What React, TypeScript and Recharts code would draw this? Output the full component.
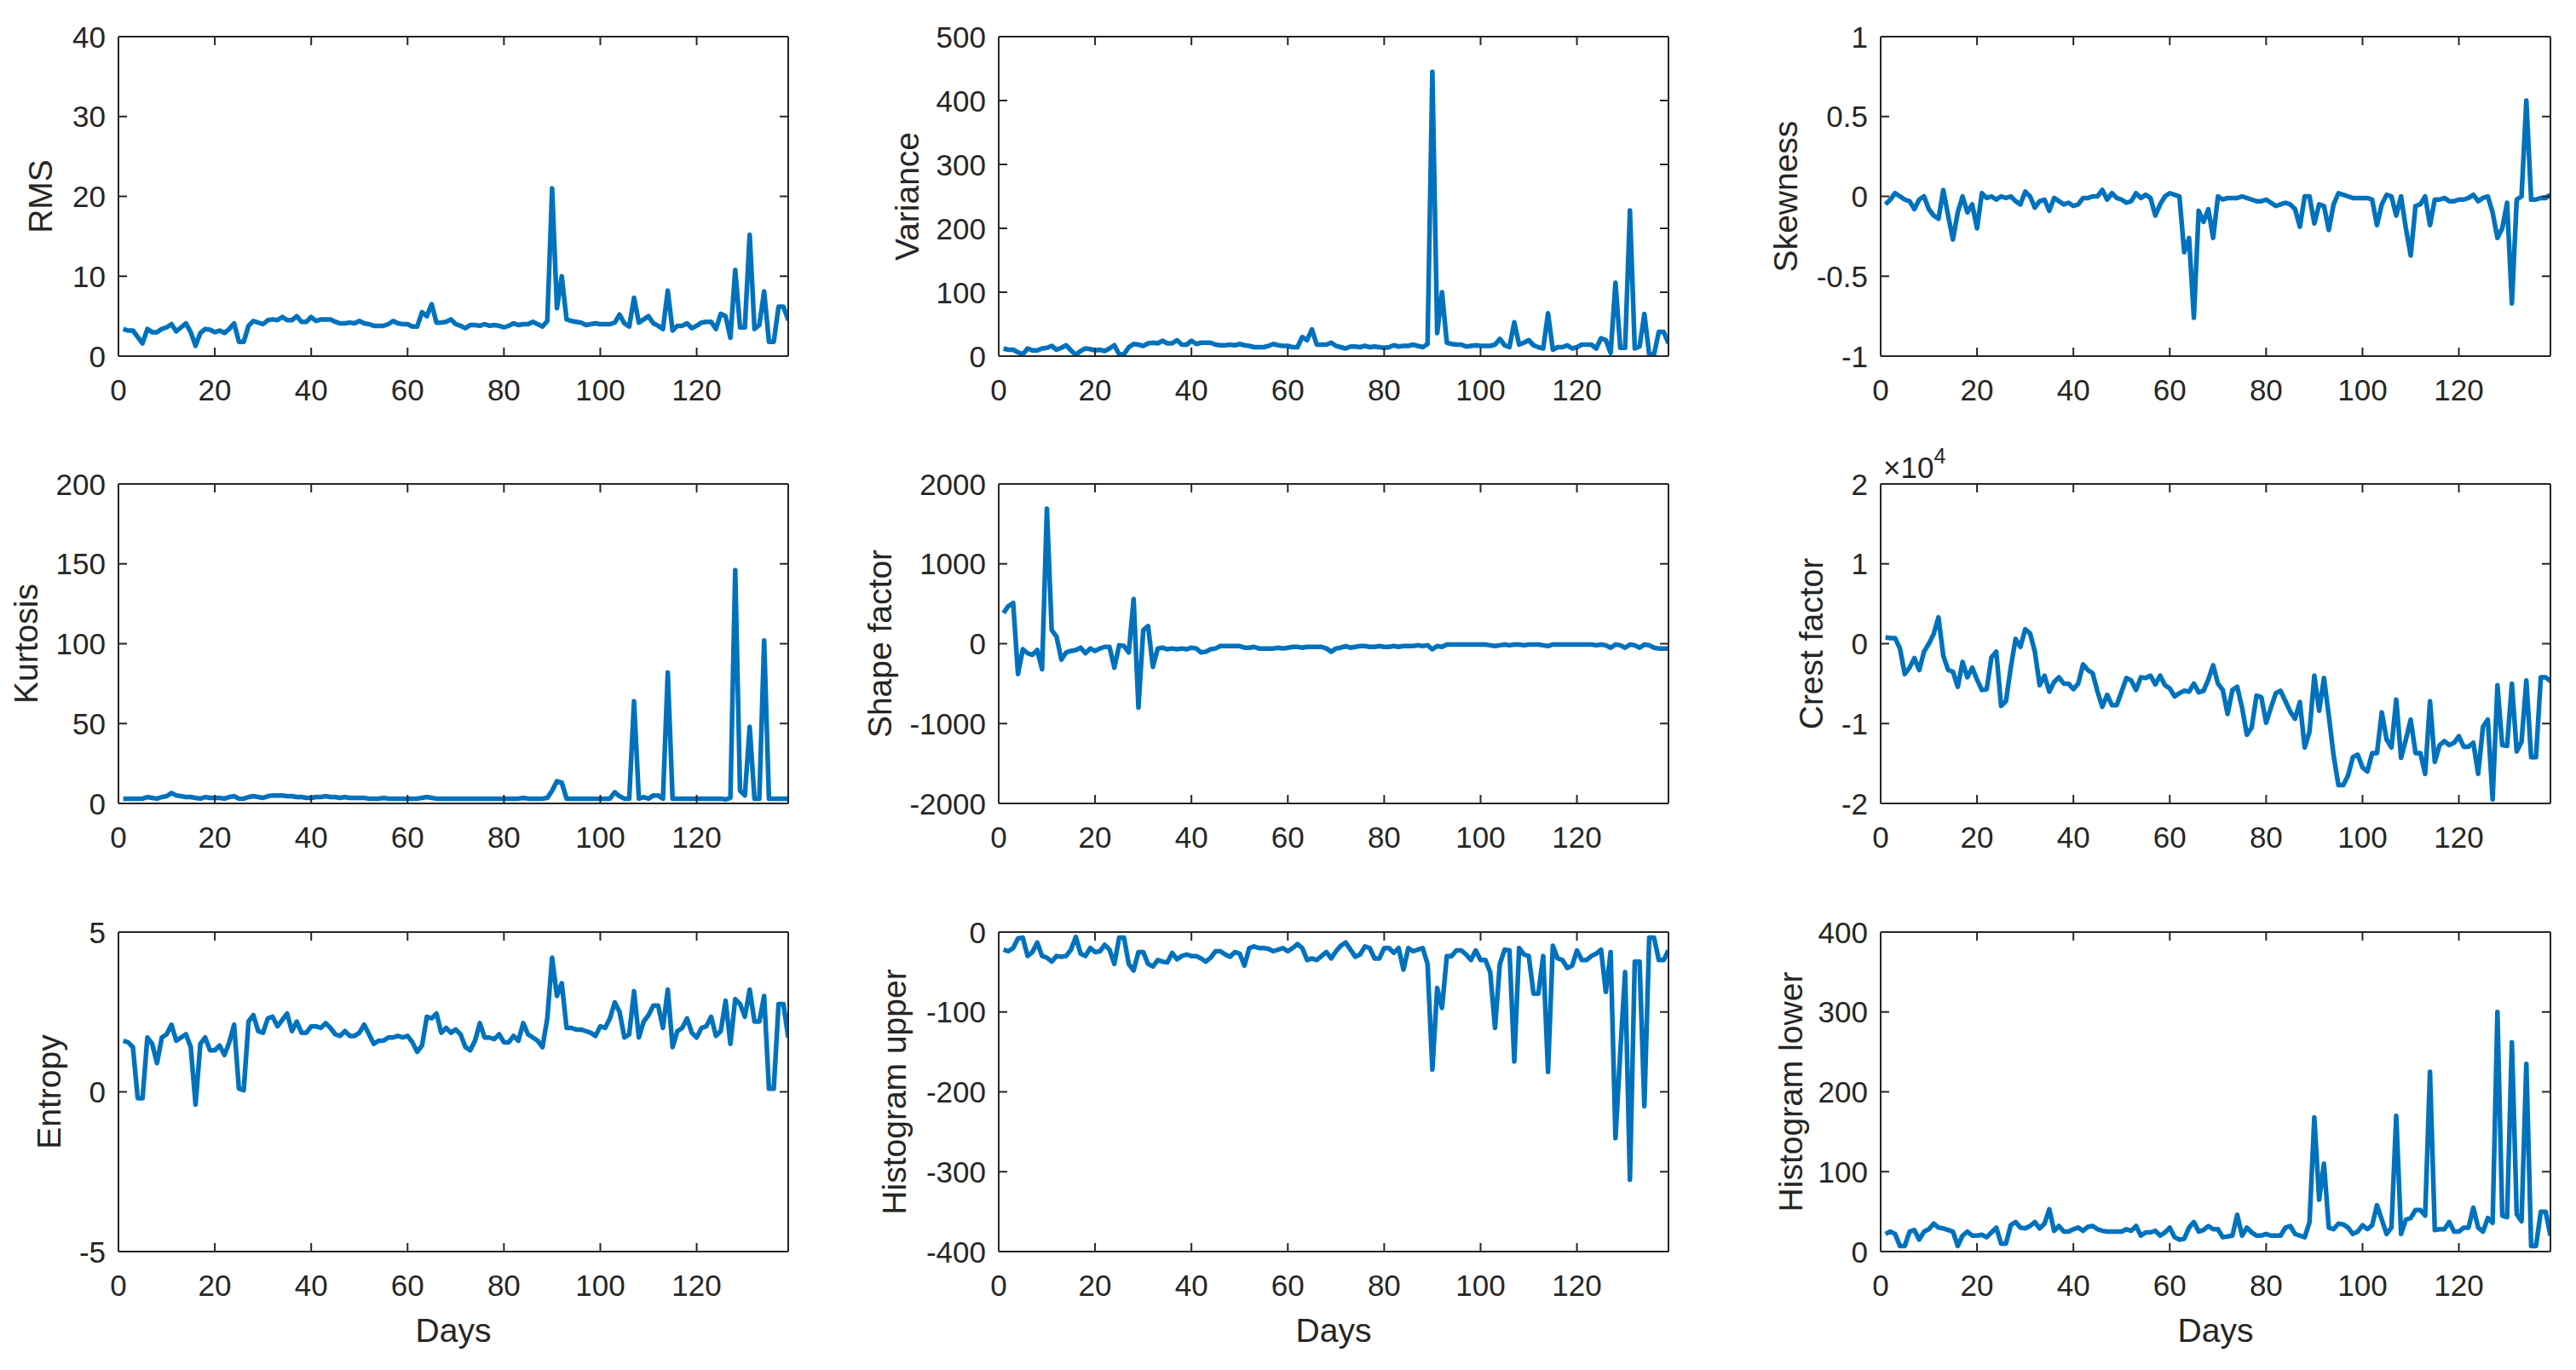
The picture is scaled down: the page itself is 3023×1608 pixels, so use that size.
import React from 'react';
import { LineChart, Line, XAxis, YAxis } from 'recharts';

// day index for every sample (x categories)
const days = Array.from({ length: 139 }, (_, i) => i + 1);
const dayTicks = [0, 20, 40, 60, 80, 100, 120];

const rms = [
  3.4, 3.2, 3.2, 2.4, 1.6, 3.4, 3.0, 3.0, 3.4, 3.6,
  4.0, 3.1, 3.6, 4.1, 3.0, 1.3, 2.9, 3.4, 3.3, 3.0,
  3.2, 2.9, 3.4, 4.1, 1.8, 1.8, 3.8, 4.4, 4.2, 4.0,
  4.5, 4.6, 4.5, 4.9, 4.5, 4.5, 5.0, 4.3, 4.3, 4.9,
  4.4, 4.6, 4.6, 4.6, 4.3, 4.1, 4.1, 4.2, 4.1, 4.4,
  4.1, 4.0, 3.8, 3.8, 3.8, 4.0, 4.4, 4.1, 4.0, 4.0,
  3.7, 3.7, 5.5, 5.0, 6.5, 4.2, 4.2, 4.3, 4.6, 4.0,
  3.8, 3.5, 3.9, 3.9, 3.8, 4.0, 3.8, 3.9, 3.8, 3.6,
  3.8, 4.1, 3.9, 4.0, 4.0, 4.3, 4.0, 3.7, 4.4, 21.0,
  6.0, 10.0, 4.6, 4.4, 4.3, 4.2, 3.9, 4.0, 4.1, 4.0,
  4.0, 4.0, 4.2, 5.2, 4.1, 3.7, 7.3, 4.2, 4.6, 5.0,
  4.1, 3.8, 3.4, 8.2, 3.2, 3.8, 3.8, 4.1, 3.5, 3.8,
  4.2, 4.3, 4.3, 3.4, 5.3, 5.0, 2.3, 10.8, 3.6, 3.6,
  15.2, 3.4, 3.9, 8.1, 1.8, 1.8, 6.2, 6.2, 4.5,
];

const variance = [
  12, 10, 10, 6, 3, 12, 9, 9, 12, 13,
  16, 10, 13, 17, 9, 2, 8, 12, 11, 9,
  10, 8, 12, 17, 3, 3, 14, 19, 18, 16,
  20, 21, 20, 24, 20, 20, 25, 18, 18, 24,
  19, 21, 21, 21, 18, 17, 17, 18, 17, 19,
  17, 16, 14, 14, 14, 16, 19, 17, 16, 16,
  14, 14, 30, 25, 42, 18, 18, 18, 21, 16,
  14, 12, 15, 15, 14, 16, 14, 15, 14, 13,
  14, 17, 15, 16, 16, 18, 16, 14, 19, 445,
  36, 100, 21, 19, 18, 18, 15, 16, 17, 16,
  16, 16, 18, 27, 17, 14, 53, 18, 21, 25,
  17, 14, 12, 67, 10, 14, 14, 17, 12, 14,
  18, 18, 18, 12, 28, 25, 5, 115, 13, 13,
  228, 12, 15, 66, 3, 3, 38, 38, 20,
];

const skewness = [
  -0.05, -0.02, 0.02, 0.0, -0.02, -0.03, -0.08, -0.02, 0.0, -0.08,
  -0.12, -0.14, 0.04, -0.12, -0.27, -0.1, 0.0, -0.1, -0.05, -0.2,
  0.02, -0.01, 0.0, -0.02, 0.0, -0.01, 0.0, -0.03, -0.05, 0.03,
  0.0, -0.07, -0.03, -0.02, -0.09, -0.01, -0.03, -0.05, -0.04, -0.06,
  -0.05, -0.01, -0.01, 0.0, 0.0, 0.04, -0.02, 0.02, -0.01, -0.02,
  -0.04, -0.03, 0.02, -0.01, 0.01, -0.01, -0.12, -0.05, 0.0, 0.02,
  0.01, 0.0, -0.35, -0.26, -0.76, -0.09, -0.16, -0.08, -0.26, 0.0,
  -0.02, -0.01, -0.01, -0.01, 0.0, -0.01, -0.02, -0.03, -0.03, -0.02,
  -0.04, -0.06, -0.05, -0.04, -0.05, -0.08, -0.19, 0.0, 0.0, -0.17,
  -0.05, -0.06, -0.21, -0.05, 0.02, 0.01, 0.0, -0.01, -0.01, -0.01,
  -0.01, -0.02, -0.18, -0.05, 0.01, 0.0, -0.12, 0.0, -0.2, -0.37,
  -0.06, -0.05, 0.0, -0.18, -0.02, -0.02, -0.01, -0.03, -0.03, -0.02,
  -0.02, -0.01, 0.01, -0.03, -0.01, 0.0, -0.1, -0.26, -0.2, -0.04,
  -0.67, -0.02, 0.0, 0.6, -0.02, -0.02, -0.01, -0.01, 0.01,
];

const kurtosis = [
  3, 3, 3, 3, 3, 4, 3.5, 3, 4, 4.5,
  6.5, 5, 4.5, 4, 4, 3.5, 3, 4, 3.5, 3.5,
  3.5, 3, 4, 4.5, 3, 3, 4, 4.5, 4, 3.5,
  4.5, 5, 5, 5, 4.5, 4.5, 4, 4, 3.5, 3.5,
  4, 4, 4.5, 4, 4, 3.5, 4, 3.5, 3.5, 3.5,
  3.5, 3, 3, 3, 3.5, 3, 3, 3, 3, 3,
  3, 3, 3.5, 4, 3.5, 3, 3, 3, 3, 3,
  3, 3, 3, 3, 3, 3, 3, 3, 3, 3,
  3, 3, 3, 3.5, 3, 3, 3, 3, 3.5, 8,
  14, 13, 3, 3, 3, 3, 3, 3, 3, 3,
  3, 3, 7, 4.5, 3, 3, 64, 3, 4, 3,
  5, 5, 3, 82, 3, 3, 3, 3, 3, 3,
  3, 3, 3, 3, 3, 2.5, 3.5, 146, 8, 5,
  48, 3, 3, 102, 3, 3, 3, 3, 3,
];

const shapeFactor = [
  384, 470, 510, -380, -70, -120, -140, -80, -320, 1690,
  170, 90, -200, -110, -90, -80, -50, -120, -60, -90,
  -60, -40, -40, -300, -20, -30, -110, 560, -800, 170,
  220, -290, -60, -50, -70, -60, -70, -60, -70, -50,
  -60, -110, -100, -70, -60, -30, -30, -30, -30, -30,
  -50, -50, -40, -60, -60, -60, -60, -50, -60, -50,
  -40, -40, -50, -40, -40, -40, -40, -60, -100, -60,
  -50, -30, -50, -40, -30, -30, -40, -40, -30, -40,
  -40, -30, -40, -30, -30, -30, -20, -30, -20, -70,
  -30, -40, -10, -10, -10, -10, -10, -10, -10, -10,
  -10, -20, -30, -20, -10, -20, -10, -10, -20, -10,
  -10, -10, -20, -30, -10, -10, -10, -10, -10, -10,
  -10, -10, -10, -20, -10, -20, -50, -10, -20, -50,
  -10, -20, -50, -10, -20, -50, -60, -60, -60,
];

// crest factor, in units of 1e4
const crestFactor = [
  0.08, 0.07, 0.07, -0.06, -0.38, -0.3, -0.18, -0.33, -0.1, 0.0,
  0.12, 0.33, -0.15, -0.33, -0.35, -0.54, -0.23, -0.42, -0.3, -0.45,
  -0.58, -0.57, -0.17, -0.1, -0.78, -0.72, -0.3, 0.06, -0.04, 0.18,
  0.13, -0.1, -0.52, -0.4, -0.6, -0.48, -0.42, -0.5, -0.5, -0.57,
  -0.5, -0.26, -0.33, -0.37, -0.6, -0.79, -0.64, -0.77, -0.77, -0.6,
  -0.43, -0.46, -0.58, -0.42, -0.43, -0.4, -0.51, -0.4, -0.52, -0.56,
  -0.66, -0.62, -0.59, -0.6, -0.5, -0.61, -0.59, -0.45, -0.27, -0.5,
  -0.58, -0.88, -0.58, -0.54, -0.8, -1.14, -1.05, -0.65, -0.67, -0.99,
  -0.8, -0.62, -0.59, -0.72, -0.85, -0.94, -0.73, -1.3, -1.1, -0.4,
  -0.84, -0.43, -0.9, -1.4, -1.77, -1.77, -1.65, -1.42, -1.39, -1.55,
  -1.6, -1.37, -1.37, -0.86, -1.2, -1.3, -0.7, -1.43, -1.2, -0.95,
  -1.37, -1.37, -1.63, -0.72, -1.48, -1.27, -1.22, -1.27, -1.24, -1.16,
  -1.29, -1.29, -1.24, -1.63, -1.04, -0.95, -1.95, -0.52, -1.27, -1.28,
  -0.5, -1.35, -1.23, -0.46, -1.42, -1.42, -0.42, -0.42, -0.47,
];

const entropy = [
  1.6, 1.55, 1.4, -0.2, -0.2, 1.7, 1.5, 0.9, 1.7, 1.8,
  2.1, 1.6, 1.7, 1.8, 1.4, -0.4, 1.5, 1.7, 1.3, 1.3,
  1.45, 1.15, 1.55, 2.1, 0.1, 0.05, 2.2, 2.4, 1.9, 1.85,
  2.3, 2.35, 2.05, 2.25, 2.45, 1.9, 2.2, 1.85, 1.85, 2.05,
  2.05, 2.0, 2.15, 2.0, 1.8, 1.75, 1.9, 1.75, 1.75, 1.85,
  2.1, 1.8, 1.5, 1.6, 1.6, 1.7, 1.7, 1.75, 1.7, 1.75,
  1.55, 1.25, 1.45, 2.35, 2.3, 2.45, 1.85, 2.0, 1.85, 1.95,
  1.8, 1.4, 1.3, 1.6, 2.15, 1.7, 1.7, 1.65, 1.8, 1.55,
  1.55, 1.75, 1.6, 2.15, 1.8, 1.7, 1.6, 1.4, 2.3, 4.2,
  3.0, 3.4, 2.0, 2.0, 1.95, 1.95, 1.9, 1.85, 1.75, 2.05,
  2.0, 2.3, 2.8, 2.5, 1.7, 1.8, 3.15, 1.7, 2.2, 2.4,
  2.7, 2.7, 2.0, 3.2, 1.4, 1.9, 2.0, 2.3, 1.85, 1.7,
  2.0, 2.05, 2.35, 1.75, 1.9, 2.85, 1.5, 2.9, 2.75, 2.35,
  3.2, 2.2, 2.2, 3.0, 0.1, 0.1, 2.75, 2.75, 1.7,
];

const histUpper = [
  -22, -24, -20, -8, -7, -30, -25, -13, -30, -32,
  -37, -30, -31, -30, -22, -6, -27, -30, -20, -25,
  -24, -16, -22, -40, -7, -7, -40, -48, -25, -25,
  -40, -43, -35, -37, -38, -26, -34, -30, -28, -30,
  -30, -33, -37, -32, -24, -24, -28, -31, -25, -27,
  -42, -20, -18, -20, -20, -21, -24, -22, -20, -24,
  -20, -15, -20, -35, -33, -35, -30, -25, -33, -24,
  -17, -13, -22, -31, -28, -18, -20, -33, -33, -20,
  -20, -26, -20, -47, -20, -24, -22, -20, -40, -172,
  -70, -95, -30, -30, -23, -23, -28, -35, -23, -35,
  -35, -50, -120, -40, -22, -23, -162, -20, -28, -30,
  -77, -77, -30, -175, -17, -33, -35, -45, -42, -23,
  -35, -35, -30, -27, -22, -75, -25, -258, -150, -50,
  -310, -37, -37, -218, -7, -7, -35, -35, -23,
];

const histLower = [
  22, 25, 22, 7, 7, 25, 27, 15, 25, 28,
  35, 30, 29, 27, 25, 7, 20, 25, 20, 20,
  21, 18, 24, 30, 10, 10, 33, 37, 30, 29,
  32, 37, 29, 35, 53, 26, 32, 25, 25, 28,
  30, 26, 31, 32, 28, 26, 25, 25, 25, 25,
  28, 26, 32, 20, 24, 24, 26, 20, 24, 30,
  18, 15, 16, 30, 37, 25, 27, 32, 28, 28,
  18, 19, 20, 46, 20, 30, 24, 20, 20, 22,
  20, 20, 20, 30, 32, 22, 20, 18, 37, 168,
  65, 110, 30, 28, 35, 34, 30, 22, 25, 33,
  28, 33, 58, 40, 22, 30, 170, 22, 40, 42,
  52, 52, 45, 225, 27, 28, 28, 37, 25, 25,
  30, 30, 55, 30, 25, 42, 36, 300, 45, 43,
  262, 47, 38, 235, 7, 7, 50, 50, 20,
];

const BLUE = '#0072BD';
const INK = '#262626';
const FONT = "'Liberation Sans', Arial, Helvetica, sans-serif";
const TICK_FS = 35;
const LABEL_FS = 39;

const PLOT_W = 786;
const PLOT_H = 375;
const AXIS_W = 180;
const TOP = 50;
const RIGHT = 20;
const BOTTOM = 130;
const TICK_LEN = 10;
const colLeft = [139, 1172, 2207];
const rowTop = [43, 568, 1094];

const panels = [
  { label: 'RMS', values: rms, domain: [0, 40], ticks: [0, 10, 20, 30, 40], gap: 92, col: 0, row: 0 },
  { label: 'Variance', values: variance, domain: [0, 500], ticks: [0, 100, 200, 300, 400, 500], gap: 108, col: 1, row: 0 },
  { label: 'Skewness', values: skewness, domain: [-1, 1], ticks: [-1, -0.5, 0, 0.5, 1], gap: 112, col: 2, row: 0 },
  { label: 'Kurtosis', values: kurtosis, domain: [0, 200], ticks: [0, 50, 100, 150, 200], gap: 109, col: 0, row: 1 },
  { label: 'Shape factor', values: shapeFactor, domain: [-2000, 2000], ticks: [-2000, -1000, 0, 1000, 2000], gap: 140, col: 1, row: 1 },
  { label: 'Crest factor', values: crestFactor, domain: [-2, 2], ticks: [-2, -1, 0, 1, 2], gap: 82, col: 2, row: 1, exp: true },
  { label: 'Entropy', values: entropy, domain: [-5, 5], ticks: [-5, 0, 5], gap: 82, col: 0, row: 2 },
  { label: 'Histogram upper', values: histUpper, domain: [-400, 0], ticks: [-400, -300, -200, -100, 0], gap: 123, col: 1, row: 2 },
  { label: 'Histogram lower', values: histLower, domain: [0, 400], ticks: [0, 100, 200, 300, 400], gap: 106, col: 2, row: 2 },
];

const textStyle = { fill: INK, fontFamily: FONT };

const bottomTick = (props: any) => {
  const { x, y, payload } = props;
  return (
    <g>
      <line x1={x} x2={x} y1={y} y2={y - TICK_LEN} stroke={INK} strokeWidth={2} />
      <text x={x} y={y + 52} textAnchor="middle" fontSize={TICK_FS} {...textStyle}>{payload.value}</text>
    </g>
  );
};

const leftTick = (props: any) => {
  const { x, y, payload } = props;
  return (
    <g>
      <line x1={x} x2={x + TICK_LEN} y1={y} y2={y} stroke={INK} strokeWidth={2} />
      <text x={x - 15} y={y} dy="0.36em" textAnchor="end" fontSize={TICK_FS} {...textStyle}>{payload.value}</text>
    </g>
  );
};

const topTick = (props: any) => {
  const { x, y } = props;
  return <line x1={x} x2={x} y1={y} y2={y + TICK_LEN} stroke={INK} strokeWidth={2} />;
};

const rightTick = (props: any) => {
  const { x, y } = props;
  return <line x1={x} x2={x - TICK_LEN} y1={y} y2={y} stroke={INK} strokeWidth={2} />;
};

function Panel({ p }: any) {
  const width = AXIS_W + PLOT_W + RIGHT;
  const height = TOP + PLOT_H + BOTTOM;
  const data = days.map((d, i) => ({ day: d, v: p.values[i] }));
  const cx = AXIS_W - p.gap;
  const cy = TOP + PLOT_H / 2;
  const axisLine = { stroke: INK, strokeWidth: 2 };
  return (
    <div style={{ position: 'absolute', left: colLeft[p.col] - AXIS_W, top: rowTop[p.row] - TOP, width, height }}>
      <LineChart width={width} height={height} data={data} margin={{ top: TOP - 1, right: RIGHT - 1, bottom: 0, left: 0 }}>
        <XAxis
          xAxisId="b" dataKey="day" type="number" domain={[0, 139]} ticks={dayTicks} interval={0}
          allowDataOverflow height={BOTTOM} tickSize={0} tickMargin={0} tickLine={false}
          axisLine={axisLine} tick={bottomTick}
          label={p.row === 2 ? () => (
            <text x={AXIS_W + PLOT_W / 2} y={TOP + PLOT_H + 106} textAnchor="middle" fontSize={LABEL_FS} {...textStyle}>Days</text>
          ) : undefined}
        />
        <XAxis
          xAxisId="t" orientation="top" dataKey="day" type="number" domain={[0, 139]} ticks={dayTicks} interval={0}
          allowDataOverflow height={1} tickSize={0} tickMargin={0} tickLine={false}
          axisLine={axisLine} tick={topTick}
        />
        <YAxis
          yAxisId="l" type="number" domain={p.domain} ticks={p.ticks} interval={0} allowDataOverflow
          width={AXIS_W} tickSize={0} tickMargin={0} tickLine={false} axisLine={axisLine} tick={leftTick}
          label={() => (
            <g>
              <text x={cx} y={cy} transform={`rotate(-90 ${cx} ${cy})`} textAnchor="middle" dominantBaseline="central" fontSize={LABEL_FS} {...textStyle}>
                {p.label}
              </text>
              {p.exp ? (
                <text x={AXIS_W + 3} y={TOP - 7} fontSize={35} {...textStyle}>
                  ×10<tspan dy={-17} fontSize={25}>4</tspan>
                </text>
              ) : null}
            </g>
          )}
        />
        <YAxis
          yAxisId="r" orientation="right" type="number" domain={p.domain} ticks={p.ticks} interval={0} allowDataOverflow
          width={1} tickSize={0} tickMargin={0} tickLine={false} axisLine={axisLine} tick={rightTick}
        />
        <Line
          xAxisId="b" yAxisId="l" type="linear" dataKey="v" stroke={BLUE} strokeWidth={5.5}
          strokeLinejoin="round" dot={false} activeDot={false} isAnimationActive={false}
        />
      </LineChart>
    </div>
  );
}

export default function App() {
  return (
    <div style={{ position: 'absolute', left: 0, top: 0, width: 3023, height: 1608, background: '#fff', overflow: 'hidden' }}>
      {panels.map((p) => (
        <Panel key={p.label} p={p} />
      ))}
    </div>
  );
}
